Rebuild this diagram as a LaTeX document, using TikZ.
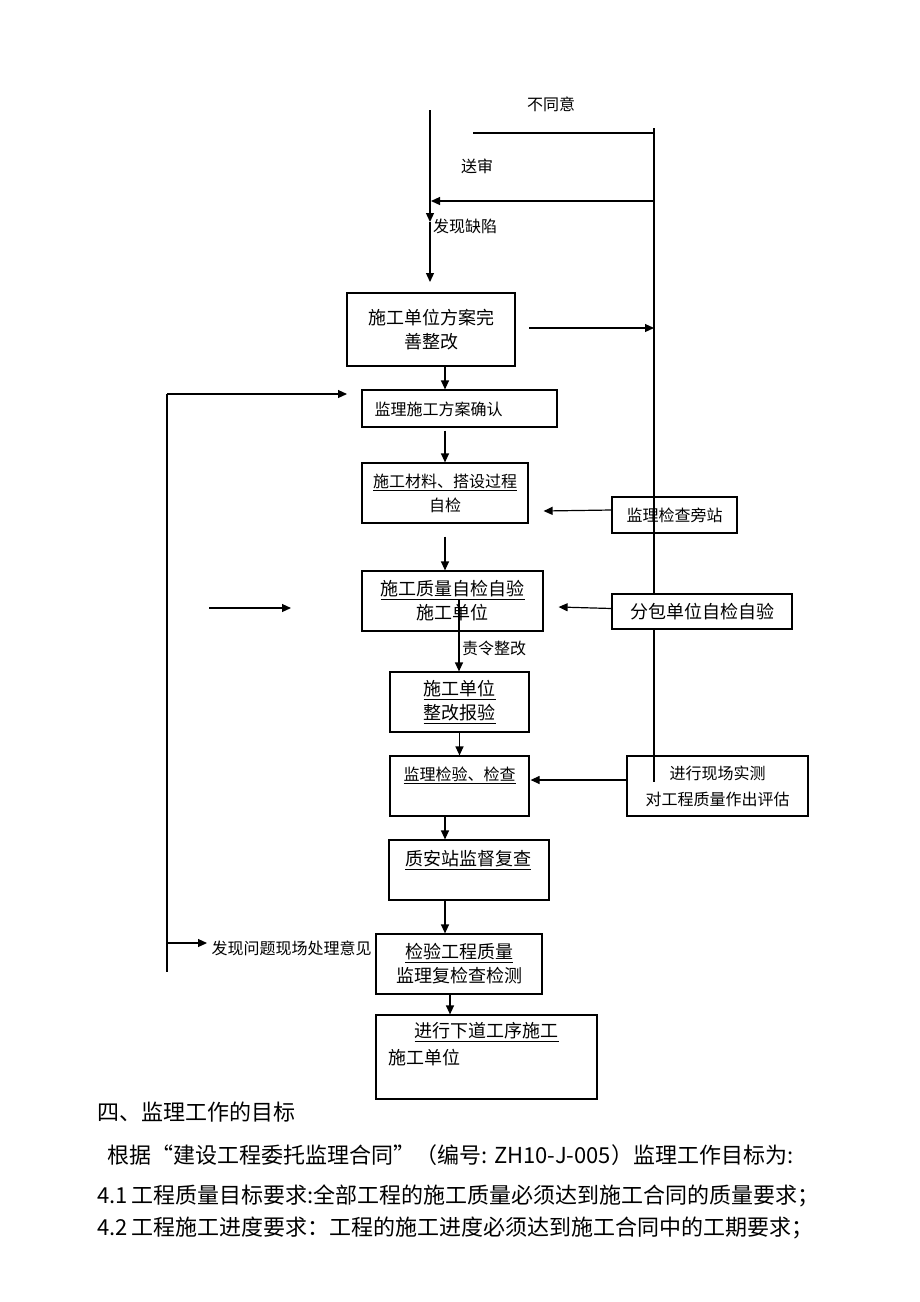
\documentclass[tikz,border=0pt]{standalone}
\usepackage{fontspec}
\setmainfont{Noto Sans CJK SC}
\usetikzlibrary{arrows.meta}
\begin{document}
\begin{tikzpicture}[x=1pt,y=-1pt,
  line width=1.2pt,
  arr/.style={-{Triangle[length=9pt,width=8pt]}},
  box/.style={draw, line width=1.2pt, inner sep=0pt, align=center},
  big/.style={font=\fontsize{18}{24}\selectfont, align=center},
  small/.style={font=\fontsize{16}{26}\selectfont, align=center},
  body/.style={font=\fontsize{22}{26}\selectfont, anchor=west, inner sep=0pt},
]
\useasboundingbox[fill=white] (0,0) rectangle (920,1302);

% top labels
\node[small, inner sep=0pt] (lab1) at (551,104) {不同意};
\node[small, inner sep=0pt] (lab2) at (477,166) {送审};
\node[small, inner sep=0pt] (lab3) at (465,226) {发现缺陷};

% boxes
\node[box, minimum width=168pt, minimum height=73pt, big] (b1) at (431,329.5) {施工单位方案完\\善整改};
\node[box, minimum width=195pt, minimum height=37pt] (b2) at (459.5,408.5) {};
\node[small, anchor=west, inner sep=0pt] (t2) at (374,409) {监理施工方案确认};
\node[box, minimum width=166pt, minimum height=60pt, small] (b3) at (445,493) {\underline{施工材料、搭设过程}\\[-2pt]自检};
\node[box, minimum width=125pt, minimum height=36pt, small] (b4) at (674.5,515) {监理检查旁站};

% right trunk (drawn over b4, hidden by b6)
\coordinate (r0) at (654,128);
\coordinate (r1) at (654,782);
\draw (r0) -- (r1);

\node[box, fill=white, minimum width=180pt, minimum height=35pt, big] (b6) at (702,611.5) {分包单位自检自验};
\node[box, minimum width=181pt, minimum height=60pt, big] (b5) at (452.5,601) {\underline{施工质量自检自验}\\施工单位};
\node[box, minimum width=139pt, minimum height=60pt, big] (b7) at (459.5,702) {\underline{施工单位}\\\underline{整改报验}};
\node[box, minimum width=139pt, minimum height=60pt] (b8) at (459.5,786) {};
\node[small, inner sep=0pt] (t8) at (459.5,775) {\underline{监理检验、检查}};
\node[box, minimum width=181pt, minimum height=60pt, small] (b9) at (717.5,786) {进行现场实测\\对工程质量作出评估};
\node[box, minimum width=160pt, minimum height=60pt] (b10) at (469,870) {};
\node[big, inner sep=0pt] (t10) at (468,860) {\underline{质安站监督复查}};
\node[box, minimum width=166pt, minimum height=60pt, big] (b11) at (459,964) {\underline{检验工程质量}\\监理复检查检测};
\node[box, minimum width=221pt, minimum height=84pt] (b12) at (486.5,1057) {};
\node[big, inner sep=0pt] (t12a) at (486.5,1032) {\underline{进行下道工序施工}};
\node[big, anchor=west, inner sep=0pt] (t12b) at (388,1058) {施工单位};

% top connectors
\coordinate (t0) at (430,110);
\coordinate (tm) at (430,222);
\coordinate (t1) at (430,282);
\draw[arr] (t0) -- (tm);
\draw[arr] (tm) -- (t1);
\coordinate (h0) at (473,133);
\coordinate (h1) at (654,133);
\draw (h0) -- (h1);
\coordinate (r2) at (654,201);
\coordinate (l2) at (431,201);
\draw[arr] (r2) -- (l2);
\coordinate (a1) at (529,328);
\coordinate (a2) at (654,328);
\draw[arr] (a1) -- (a2);

% vertical flow
\coordinate (x445) at (445,0);
\coordinate (x450) at (450,0);
\draw[arr] (b1.south -| x445) -- (b2.north -| x445);
\draw[arr] ([yshift=-3pt]b2.south -| x445) -- (b3.north -| x445);
\draw[arr] ([yshift=-13pt]b3.south -| x445) -- (b5.north -| x445);
\coordinate (s5) at (459,600);
\draw[arr] (s5) -- (b7.north -| s5);
\node[small, inner sep=0pt] (lab4) at (494,648) {责令整改};
\draw[arr] (b7.south) -- (b8.north);
\draw[arr] (b8.south -| x445) -- (b10.north -| x445);
\draw[arr] (b10.south -| x445) -- (b11.north -| x445);
\draw[arr] (b11.south -| x450) -- (b12.north -| x450);

% side arrows
\draw[arr] ([yshift=5pt]b4.west) -- ([xshift=15pt,yshift=-18pt]b3.east);
\draw[arr] ([yshift=3pt]b6.west) -- ([xshift=15pt,yshift=-6pt]b5.east);
\draw[arr] ([yshift=6pt]b9.west) -- ([xshift=1pt,yshift=6pt]b8.east);
\coordinate (f0) at (209,608);
\coordinate (f1) at (291,608);
\draw[arr] (f0) -- (f1);

% left loop
\coordinate (L0) at (167,394);
\coordinate (L1) at (167,972);
\coordinate (L2) at (347,394);
\coordinate (L3) at (167,943);
\coordinate (L4) at (207,943);
\draw (L0) -- (L1);
\draw[arr] (L0) -- (L2);
\draw[arr] (L3) -- (L4);
\node[small, anchor=west, inner sep=0pt] (lab5) at (211,948) {发现问题现场处理意见};

% body text
\node[body] (p1) at (97,1112) {四、监理工作的目标};
\node[body] (p2) at (107,1155) {根据“建设工程委托监理合同”（编号: ZH10-J-005）监理工作目标为:};
\node[body] (p3) at (97,1196) {4.1\,工程质量目标要求:全部工程的施工质量必须达到施工合同的质量要求；};
\node[body] (p4) at (97,1228) {4.2\,工程施工进度要求：工程的施工进度必须达到施工合同中的工期要求；};
\end{tikzpicture}
\end{document}
